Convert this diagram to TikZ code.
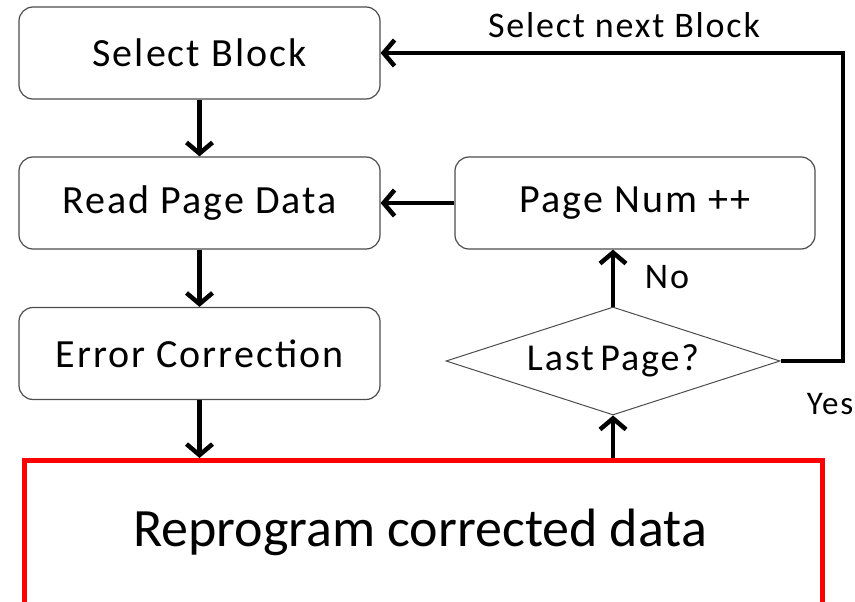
\documentclass[tikz,border=0pt]{standalone}
\usepackage{fontspec}
\setmainfont{Carlito}
\newfontfamily\spfont[LetterSpace=5]{Carlito}
\usetikzlibrary{arrows.meta,shapes.geometric,calc}
\begin{document}
\begin{tikzpicture}[x=1pt,y=-1pt,
  box/.style={draw=black!70,line width=1.2pt,rounded corners=14pt,minimum width=361pt,minimum height=92pt,inner sep=0pt,font=\spfont\fontsize{40}{46}\selectfont},
  dec/.style={draw=black!70,line width=1pt,shape=diamond,aspect=3.1,minimum width=334pt,minimum height=108pt,inner sep=0pt,font=\spfont\fontsize{38}{44}\selectfont},
  conn/.style={line width=4.5pt,-{Straight Barb[length=11pt,width=26pt]}},
  lab/.style={font=\spfont\fontsize{36}{42}\selectfont,inner sep=0pt}]
\useasboundingbox (0,0) rectangle (855,602);
\clip (0,0) rectangle (855,602);
\node[box] (sel) at (199.5,53) {Select Block};
\node[box] (read) at (199.5,203) {Read Page Data};
\node[box] (err) at (199.5,353.5) {Error Correction};
\node[box,minimum width=360pt] (pnum) at (635,203) {Page Num ++};
\node[dec] (dia) at (613,361) {Last\,Page?};
\node[draw=red,line width=5pt,minimum width=798pt,minimum height=200pt,inner sep=0pt,anchor=north west] (red) at (22,458) {};
\node[font=\fontsize{54}{60}\selectfont,inner sep=0pt] (redt) at (420,532) {Reprogram corrected data};
\draw[conn] (sel) -- (read);
\draw[conn] (read) -- (err);
\draw[conn] (err.south) -- (err.south |- red.north);
\draw[conn] (dia.south |- red.north) -- (dia.south);
\draw[conn] (dia.north) -- (dia.north |- pnum.south);
\draw[conn] (pnum.west) -- (read.east);
\coordinate (corner) at (843,361);
\draw[conn,line join=miter] (dia.east) -- (corner) |- (sel.east);
\node[lab] (no) at (667,277) {No};
\node[lab,font=\spfont\fontsize{33}{38}\selectfont] (yes) at (830,404) {Yes};
\node[lab] (snb) at (624,25) {Select next Block};
\end{tikzpicture}
\end{document}
